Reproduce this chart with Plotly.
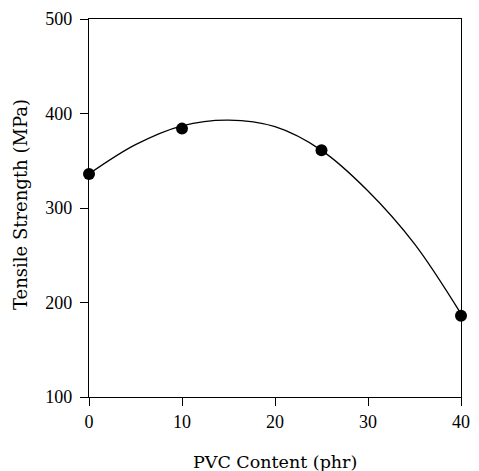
import plotly.graph_objects as go

# Measured data points
pvc_content = [0, 10, 25, 40]
tensile_strength = [336, 384, 361, 186]

# Fitted curve
curve_x = [0, 5, 10, 15, 20, 25, 30, 35, 40]
curve_y = [336, 367, 387, 393, 386, 361, 318, 262, 188]

x_ticks = [0, 10, 20, 30, 40]
y_ticks = [100, 200, 300, 400, 500]

title_font = "DejaVu Serif"
tick_font = "Liberation Serif"

fig = go.Figure()
fig.add_trace(go.Scatter(
    x=curve_x, y=curve_y, mode="lines",
    line=dict(color="black", width=1.3, shape="spline", smoothing=1.0),
    hoverinfo="skip", showlegend=False,
))
fig.add_trace(go.Scatter(
    x=pvc_content, y=tensile_strength, mode="markers",
    marker=dict(color="black", size=12),
    showlegend=False, cliponaxis=False,
))

fig.update_layout(
    width=479, height=471,
    margin=dict(l=89, r=18, t=19, b=74),
    paper_bgcolor="white", plot_bgcolor="white",
    font=dict(family=title_font, color="black", size=14),
    annotations=[
        dict(
            text="PVC Content (phr)", xref="paper", yref="paper",
            x=0.5, y=-0.172, xanchor="center", yanchor="middle",
            showarrow=False, font=dict(family=title_font, size=17.5),
        ),
        dict(
            text="Tensile Strength (MPa)", xref="paper", yref="paper",
            x=-0.186, y=0.51, xanchor="center", yanchor="middle", textangle=-90,
            showarrow=False, font=dict(family=title_font, size=18),
        ),
    ],
)
fig.update_xaxes(
    range=[0, 40], tickvals=x_ticks, ticktext=[str(v) for v in x_ticks],
    showgrid=False, zeroline=False, automargin=False,
    showline=True, linecolor="black", linewidth=1.2, mirror=True,
    ticks="outside", ticklen=8, tickcolor="black", tickwidth=1,
    tickfont=dict(family=tick_font, size=18),
)
fig.update_yaxes(
    range=[100, 500], tickvals=y_ticks, ticktext=[str(v) for v in y_ticks],
    showgrid=False, zeroline=False, automargin=False,
    showline=True, linecolor="black", linewidth=1.2, mirror=True,
    ticks="outside", ticklen=8, tickcolor="black", tickwidth=1,
    tickfont=dict(family=tick_font, size=18),
    ticklabelstandoff=4,
)

fig.write_html("out.html")
